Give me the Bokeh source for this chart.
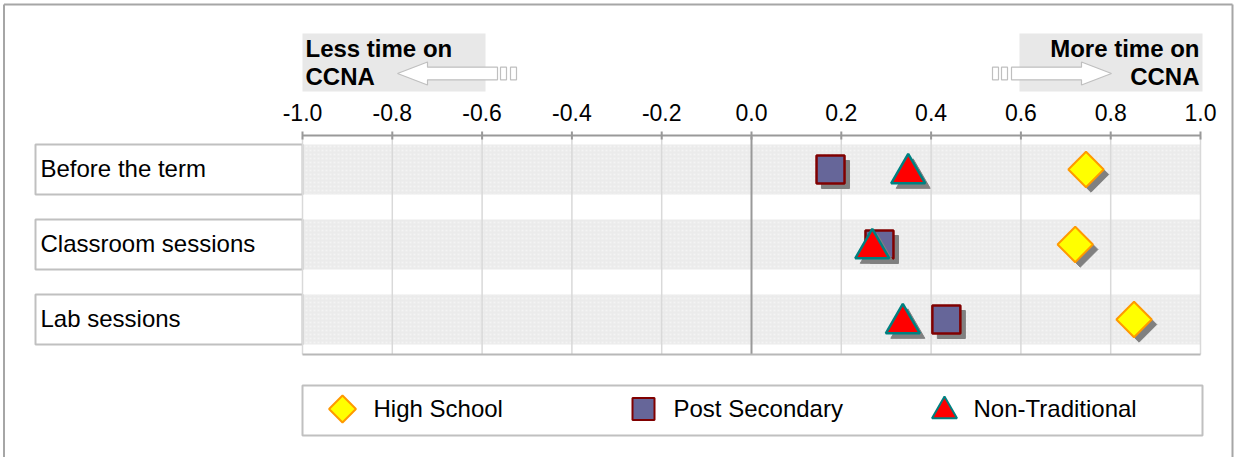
import math
from bokeh.plotting import figure
from bokeh.models import Range1d
from bokeh.core.properties import value
from bokeh.embed import file_html
from bokeh.resources import INLINE

# ---------------- data ----------------
categories = ["Before the term", "Classroom sessions", "Lab sessions"]
series_names = ["High School", "Post Secondary", "Non-Traditional"]
high_school = [0.745, 0.721, 0.852]
post_secondary = [0.176, 0.285, 0.434]
non_traditional = [0.349, 0.269, 0.337]
tick_values = [-1.0, -0.8, -0.6, -0.4, -0.2, 0.0, 0.2, 0.4, 0.6, 0.8, 1.0]
tick_labels = ["-1.0", "-0.8", "-0.6", "-0.4", "-0.2", "0.0", "0.2", "0.4", "0.6", "0.8", "1.0"]

# ---------------- layout helpers ----------------
W, H = 1236, 457
X_LEFT_PX, X_PER_UNIT = 302, 449.0     # pixel of -1.0, pixels per unit
ROW0_PX, ROW_STEP = 169, 75.0          # pixel of first row, pixels per row

def px(xp):
    return -1 + (xp - X_LEFT_PX) / X_PER_UNIT

def py(yp):
    return (yp - ROW0_PX) / ROW_STEP

def dx(n):
    return n / X_PER_UNIT

def dy(n):
    return n / ROW_STEP

FONT = "Liberation Sans"
rows = list(range(len(categories)))

p = figure(width=W, height=H, output_backend="svg", toolbar_location=None,
           x_range=Range1d(px(0), px(W)), y_range=Range1d(py(H), py(0)),
           x_axis_location=None, y_axis_location=None, min_border=0,
           outline_line_color=None, background_fill_color="white")
p.grid.visible = False

# outer frame (left, top, right)
p.segment(x0=[px(3.5), px(3.5), px(1232)], y0=[py(H), py(4), py(4)],
          x1=[px(3.5), px(1232), px(1232)], y1=[py(4), py(4), py(H)],
          line_color="#a6a6a6", line_width=2)

# header boxes
p.quad(left=[px(302), px(1019)], right=[px(485), px(1202)],
       top=[py(33), py(33)], bottom=[py(91), py(91)],
       fill_color="#e8e8e8", line_color=None)

# arrows
def left_arrow(tip, yc):
    xs = [tip, tip + 30, tip + 30, tip + 100, tip + 100, tip + 30, tip + 30]
    ys = [yc, yc - 11.5, yc - 6.3, yc - 6.3, yc + 6.3, yc + 6.3, yc + 11.5]
    return [px(v) for v in xs], [py(v) for v in ys]

def right_arrow(tip, yc):
    xs = [tip, tip - 30, tip - 30, tip - 100, tip - 100, tip - 30, tip - 30]
    ys = [yc, yc - 11.5, yc - 6.3, yc - 6.3, yc + 6.3, yc + 6.3, yc + 11.5]
    return [px(v) for v in xs], [py(v) for v in ys]

lx, ly = left_arrow(397, 73)
rx, ry = right_arrow(1111, 73)
p.patches(xs=[lx, rx], ys=[ly, ry], fill_color="white", line_color="#bfbfbf", line_width=1.2)
p.quad(left=[px(500), px(510), px(992), px(1001)], right=[px(506), px(516), px(998), px(1007)],
       top=[py(66.7)] * 4, bottom=[py(79.3)] * 4,
       fill_color="white", line_color="#bfbfbf", line_width=1.2)

p.text(x=[px(305), px(305)], y=[py(48), py(76)], text=["Less time on", "CCNA"],
       text_font=value(FONT), text_font_style="bold", text_font_size="24px",
       text_align="left", text_baseline="middle", text_color="black")
p.text(x=[px(1199), px(1199)], y=[py(48), py(76)], text=["More time on", "CCNA"],
       text_font=value(FONT), text_font_style="bold", text_font_size="24px",
       text_align="right", text_baseline="middle", text_color="black")

# bands
p.quad(left=[-1.0] * len(rows), right=[1.0] * len(rows),
       top=[r - dy(25) for r in rows], bottom=[r + dy(25) for r in rows],
       fill_color="#ebebeb", line_color=None,
       hatch_pattern="dot", hatch_color="#f4f4f4", hatch_scale=4, hatch_weight=1)

# category boxes + labels
p.quad(left=[px(35)] * len(rows), right=[-1.0] * len(rows),
       top=[r - dy(25) for r in rows], bottom=[r + dy(25) for r in rows],
       fill_color="white", line_color="#c0c0c0", line_width=2)
p.text(x=[px(40)] * len(rows), y=[r - dy(1) for r in rows], text=categories,
       text_font=value(FONT), text_font_size="24px", text_align="left",
       text_baseline="middle", text_color="black")

# vertical gridlines
top_y, bot_y = py(136), py(354)
grid_vals = [t for t in tick_values if t != 0.0]
p.segment(x0=grid_vals, x1=grid_vals, y0=[top_y] * len(grid_vals), y1=[bot_y] * len(grid_vals),
          line_color="#d9d9d9", line_width=1.5)
# zero line
p.segment(x0=[0.0], x1=[0.0], y0=[top_y], y1=[bot_y], line_color="#999999", line_width=2)
# bottom line
p.segment(x0=[-1.0], x1=[1.0], y0=[bot_y], y1=[bot_y], line_color="#b8b8b8", line_width=2)

# top axis
axis_y = py(135)
p.segment(x0=[-1.0], x1=[1.0], y0=[axis_y], y1=[axis_y], line_color="#999999", line_width=2)
p.segment(x0=tick_values, x1=tick_values, y0=[py(131)] * len(tick_values), y1=[py(139)] * len(tick_values),
          line_color="#999999", line_width=2)
p.text(x=tick_values, y=[py(112)] * len(tick_values), text=tick_labels,
       text_font=value(FONT), text_font_size="23px", text_align="center",
       text_baseline="middle", text_color="black")

# markers
sh_x, sh_y = dx(5), dy(5)
SHADOW = "#808080"
HS_STYLE = dict(marker="square", angle=math.pi / 4, fill_color="#ffff00", line_color="#ff9900", line_width=2)
PS_STYLE = dict(marker="square", angle=0.0, fill_color="#666699", line_color="#800000", line_width=2.5)
NT_STYLE = dict(marker="triangle", angle=0.0, fill_color="#ff0000", line_color="#008080", line_width=2.5)

def shifted(vals, d):
    return [v + d for v in vals]

tri_rows = shifted(rows, dy(4))
for vals, yrows, style, size in [(high_school, rows, HS_STYLE, 25),
                                 (post_secondary, rows, PS_STYLE, 28),
                                 (non_traditional, tri_rows, NT_STYLE, 34)]:
    p.scatter(x=shifted(vals, sh_x), y=shifted(yrows, sh_y), marker=style["marker"],
              angle=style["angle"], size=size, fill_color=SHADOW, line_color=SHADOW)
    p.scatter(x=vals, y=yrows, size=size, **style)

# legend (box, swatches, labels)
p.quad(left=[px(302)], right=[px(1202)], top=[py(385)], bottom=[py(435)],
       fill_color="white", line_color="#c0c0c0", line_width=2)
leg_x = [px(342), px(643), px(944)]
leg_sizes = [19, 22, 25]
leg_dy = [0, 0, 2]
for xv, style, size, off in zip(leg_x, [HS_STYLE, PS_STYLE, NT_STYLE], leg_sizes, leg_dy):
    st = dict(style)
    st["line_width"] = 2
    p.scatter(x=[xv], y=[py(408.5 + off)], size=size, **st)
p.text(x=[px(373), px(673), px(973)], y=[py(408)] * 3, text=series_names,
       text_font=value(FONT), text_font_size="24px", text_align="left",
       text_baseline="middle", text_color="black")

open("out.html", "w").write(file_html(p, INLINE))
